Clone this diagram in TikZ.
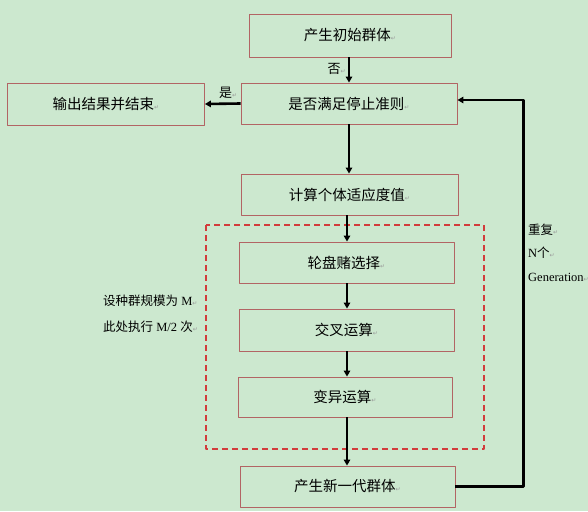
\documentclass[tikz,border=0pt]{standalone}
\usepackage{fontspec}
\setmainfont{Liberation Serif}
\newfontfamily\cjk{Noto Sans CJK SC}
\newfontfamily\symfont{DejaVu Sans}
\usetikzlibrary{arrows.meta}
\definecolor{bggreen}{RGB}{204,232,207}
\definecolor{boxred}{RGB}{178,100,100}
\definecolor{dashred}{RGB}{210,60,60}
\newcommand{\pmk}{{\symfont\fontsize{6}{6}\selectfont\color{gray!80}↵}}
\tikzset{
  flowbox/.style={draw=boxred, line width=0.9pt, inner sep=0pt,
    minimum height=41pt, font=\cjk\fontsize{14.5}{16}\selectfont},
  flow/.style={line width=2.6pt, -{Triangle[length=6pt,width=6.5pt]}},
  sidetext/.style={font=\fontsize{12.5}{23.5}\selectfont, align=left, inner sep=0pt}
}
\begin{document}
\begin{tikzpicture}[x=1pt, y=-1pt, line join=round]
\fill[bggreen] (0,0) rectangle (588,511);
\useasboundingbox (0,0) rectangle (588,511);
% boxes
\node[flowbox, minimum width=202pt, minimum height=43pt] (init) at (350,35.5) {产生初始群体\pmk};
\node[flowbox, minimum width=216pt] (judge) at (349,103.5) {是否满足停止准则\pmk};
\node[flowbox, minimum width=197pt, minimum height=42pt] (output) at (106,104) {输出结果并结束\pmk};
\node[flowbox, minimum width=217pt] (fitness) at (349.5,194.5) {计算个体适应度值\pmk};
\node[flowbox, minimum width=215pt] (select) at (346.5,262.5) {轮盘赌选择\pmk};
\node[flowbox, minimum width=215pt, minimum height=42pt] (cross) at (346.5,330) {交叉运算\pmk};
\node[flowbox, minimum width=214pt, minimum height=40pt] (mutate) at (345,397) {变异运算\pmk};
\node[flowbox, minimum width=215pt] (newgen) at (347.5,486.5) {产生新一代群体\pmk};
% dashed frame
\draw[dashred, line width=1.1pt, dash pattern=on 6pt off 4pt] (206,225) rectangle (484,449);
% connectors
\draw[flow] (init.south -| 349,0) -- (judge.north -| 349,0) node[pos=.45, left=2pt, font=\cjk\fontsize{13}{14}\selectfont, inner sep=0pt] {否\pmk};
\draw[flow] (judge.west) -- (output.east) node[pos=.35, above=4pt, font=\cjk\fontsize{13}{14}\selectfont, inner sep=0pt] {是\pmk};
\draw[flow] (judge.south -| 349,0) -- (fitness.north -| 349,0);
\draw[flow] (fitness.south -| 347,0) -- (select.north -| 347,0);
\draw[flow] (select.south -| 347,0) -- (cross.north -| 347,0);
\draw[flow] (cross.south -| 347,0) -- (mutate.north -| 347,0);
\draw[flow] (mutate.south -| 347,0) -- (newgen.north -| 347,0);
\draw[flow] (newgen.east) -- ++(68,0) coordinate (back) |- ([yshift=3.5pt]judge.east);
% side notes
\node[sidetext, anchor=north west] (repeat) at (528,223.5) {{\cjk 重复}\pmk\\N{\cjk 个}\pmk\\Generation\pmk};
\node[sidetext, anchor=north west, font=\fontsize{12.5}{26}\selectfont] (note) at (103,295) {{\cjk 设种群规模为} M\pmk\\{\cjk 此处执行} M/2 {\cjk 次}\pmk};
\end{tikzpicture}
\end{document}
